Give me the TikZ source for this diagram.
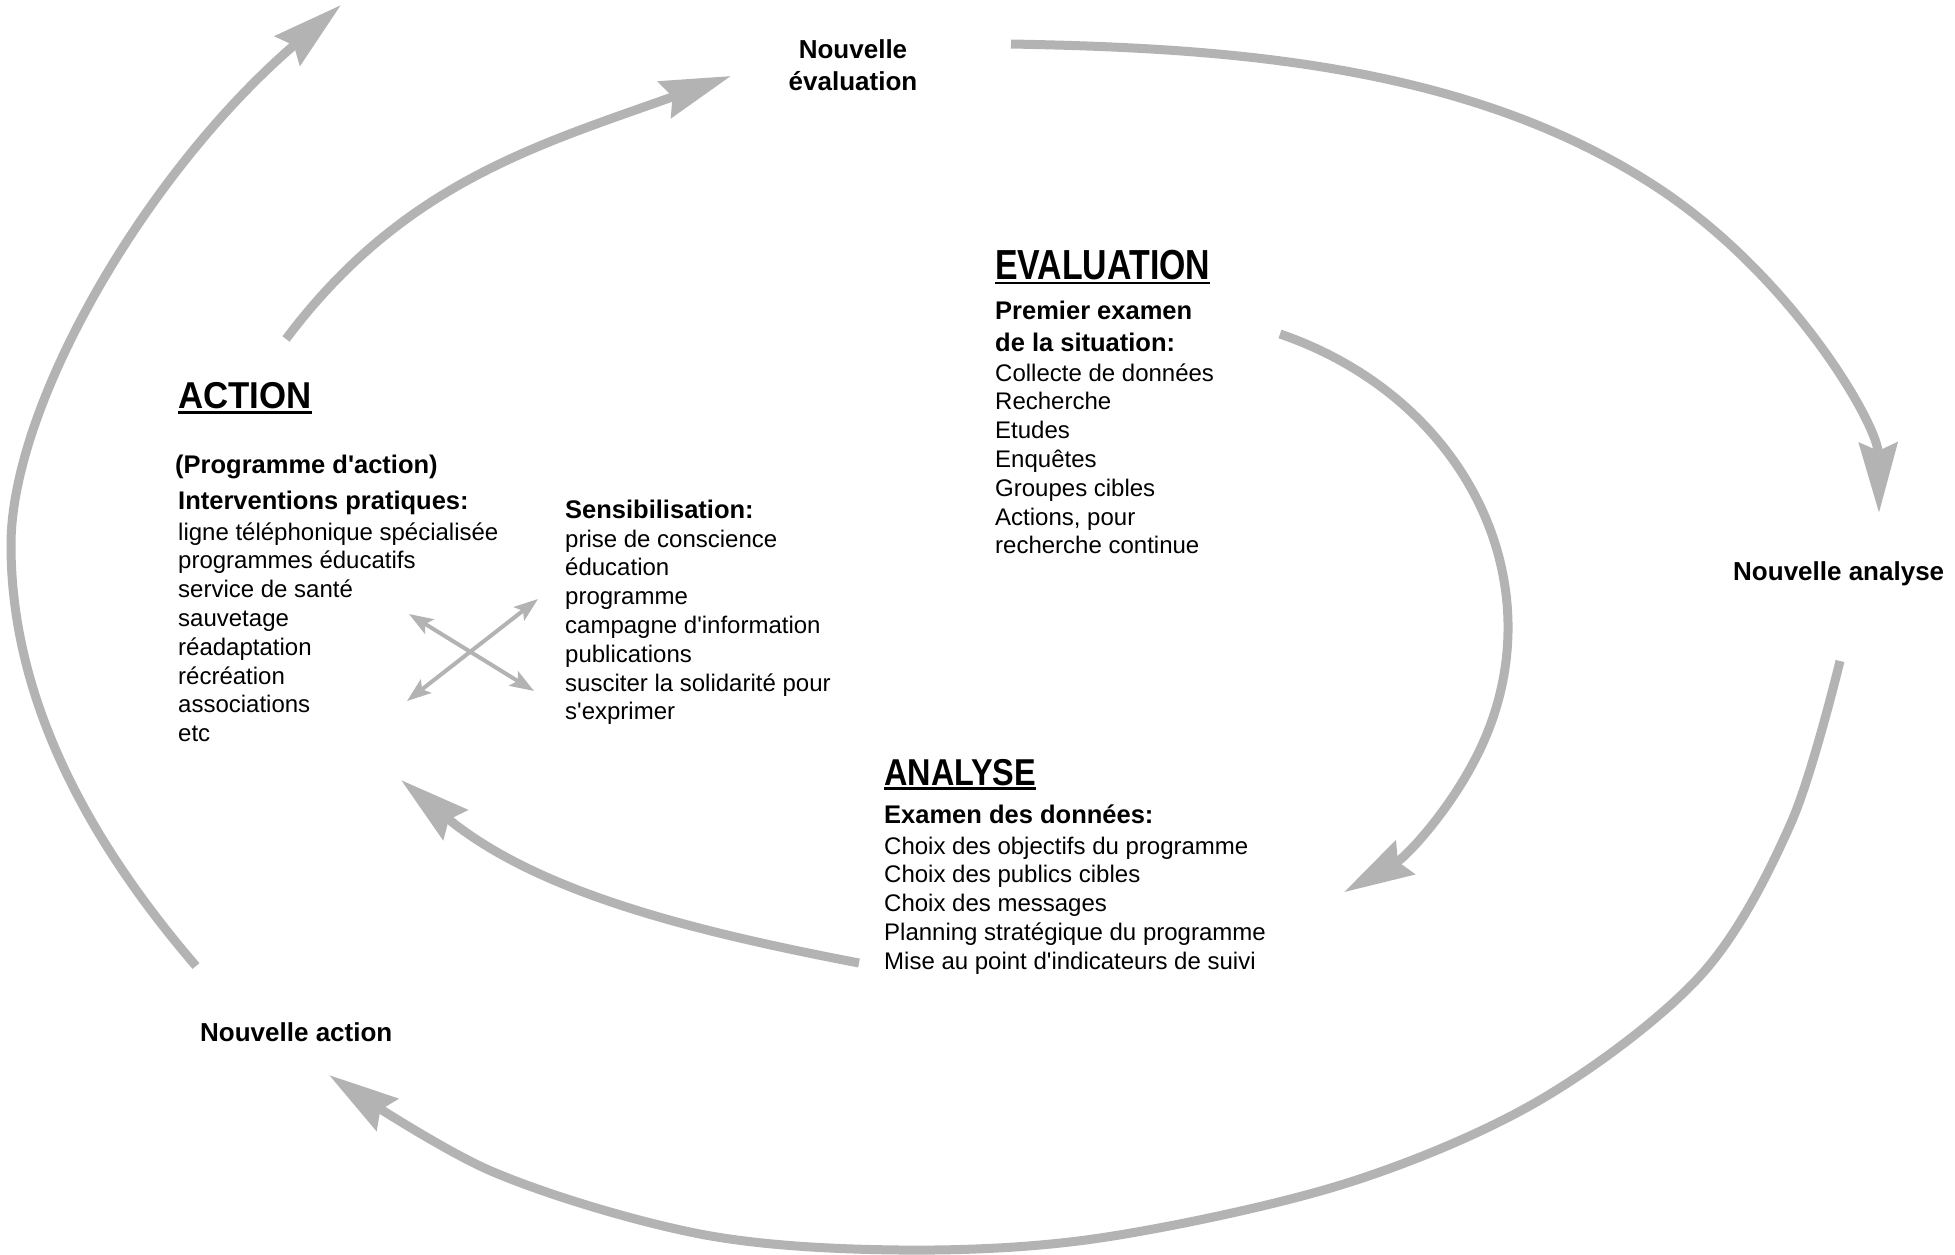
\documentclass[tikz,border=0pt]{standalone}
\usepackage{graphicx}
\usepackage{fontspec}
\setmainfont{Liberation Sans}
\usetikzlibrary{arrows.meta}
\definecolor{arrowgray}{HTML}{B3B3B3}
\begin{document}
\begin{tikzpicture}[x=1pt,y=-1pt,
  big/.style={draw=arrowgray, line width=9pt, -{Stealth[length=70pt,width=38pt,inset=8pt]}},
  small/.style={draw=arrowgray, line width=4pt, {Stealth[length=24pt,width=17pt,inset=5pt]}-{Stealth[length=24pt,width=17pt,inset=5pt]}},
  txt/.style={inner sep=0pt, anchor=base west, font=\fontsize{24}{28.8}\selectfont},
  sub/.style={inner sep=0pt, anchor=base west, font=\bfseries\fontsize{25.5}{30}\selectfont},
  lab/.style={inner sep=0pt, font=\bfseries\fontsize{26}{31}\selectfont},
  head/.style={inner sep=0pt, anchor=base west},
  uline/.style={line width=2.5pt}
]
\useasboundingbox[fill=white] (0,0) rectangle (1955,1255);

% ---------- coordinates of arrow ends ----------
\coordinate (a0s) at (1011,44);   \coordinate (a0e) at (1879,513);
\coordinate (a1s) at (196,966);   \coordinate (a1e) at (341,5);
\coordinate (a2s) at (286,339);   \coordinate (a2e) at (731,76);
\coordinate (a3s) at (859,963);   \coordinate (a3e) at (401,780);
\coordinate (a4s) at (1280,334);
\coordinate (a5s) at (1840,661);  \coordinate (a5e) at (329,1075);
\coordinate (x1a) at (409,614);   \coordinate (x1b) at (534,691);
\coordinate (x2a) at (538,599);   \coordinate (x2b) at (407,701);

% ---------- big arrows ----------
\draw[big] (a0s) .. controls (1221,48) and (1464,62) .. (1655,186)
                 .. controls (1792,275) and (1878,425) .. (a0e);
\draw[big] (a1s) .. controls (74.7,825) and (11,685) .. (11,545)
                 .. controls (11,405) and (146,172) .. (a1e);
\draw[big] (a2s) .. controls (403,183) and (538,145) .. (a2e);
\draw[big] (a3s) .. controls (695,931.5) and (538,893) .. (a3e);
\draw[big] (a4s) arc[start angle=-68.7, end angle=57.2, x radius=358, y radius=315];
\draw[big] plot[smooth, tension=0.55] coordinates {(a5s) (1791,823) (1701,975) (1540,1100) (1344,1184) (1100,1238) (900,1250) (700,1234) (491,1171) (a5e)};

% ---------- small crossing arrows ----------
\draw[small] (x1a) -- (x1b);
\draw[small] (x2a) -- (x2b);

% ---------- outer labels ----------
\node[lab, anchor=base] (nev1) at (853,59) {Nouvelle};
\node[lab, anchor=base] (nev2) at (853,91) {évaluation};
\node[lab, anchor=base west] (nan) at (1733,580) {Nouvelle analyse};
\node[lab, anchor=base west] (nac) at (200,1041) {Nouvelle action};

% ---------- EVALUATION ----------
\node[head] (evh) at (995,279) {\bfseries\fontsize{42}{50}\selectfont\scalebox{0.806}[1]{EVALUATION}};
\draw[uline] ([yshift=-4pt]evh.base west) -- ([yshift=-4pt]evh.base east);
\node[sub] (pe1) at (995,319) {Premier examen};
\node[sub] (pe2) at (995,351) {de la situation:};
\foreach \t [count=\i from 0] in {Collecte de données, Recherche, Etudes, Enquêtes, Groupes cibles, {Actions, pour}, recherche continue}
  \node[txt] (ev\i) at (995,{381+28.8*\i}) {\t};

% ---------- ACTION ----------
\node[head] (ach) at (178,408) {\bfseries\fontsize{37.4}{45}\selectfont\scalebox{0.93}[1]{ACTION}};
\draw[uline] ([yshift=-4.5pt]ach.base west) -- ([yshift=-4.5pt]ach.base east);
\node[sub] (pa) at (175,473) {(Programme d\textquotesingle action)};
\node[sub] (ip) at (178,509) {Interventions pratiques:};
\foreach \t [count=\i from 0] in {ligne téléphonique spécialisée, programmes éducatifs, service de santé, sauvetage, réadaptation, récréation, associations, etc}
  \node[txt] (ac\i) at (178,{540+28.8*\i}) {\t};

% ---------- Sensibilisation ----------
\node[sub] (se) at (565,518) {Sensibilisation:};
\foreach \t [count=\i from 0] in {prise de conscience, éducation, programme, campagne d\textquotesingle information, publications, susciter la solidarité pour, s\textquotesingle exprimer}
  \node[txt] (se\i) at (565,{547+28.8*\i}) {\t};

% ---------- ANALYSE ----------
\node[head] (anh) at (884,785) {\bfseries\fontsize{37.4}{45}\selectfont\scalebox{0.867}[1]{ANALYSE}};
\draw[uline] ([yshift=-3.5pt]anh.base west) -- ([yshift=-3.5pt]anh.base east);
\node[sub] (ex) at (884,823) {Examen des données:};
\foreach \t [count=\i from 0] in {Choix des objectifs du programme, Choix des publics cibles, Choix des messages, Planning stratégique du programme, Mise au point d\textquotesingle indicateurs de suivi}
  \node[txt] (an\i) at (884,{854+28.8*\i}) {\t};
\end{tikzpicture}
\end{document}
